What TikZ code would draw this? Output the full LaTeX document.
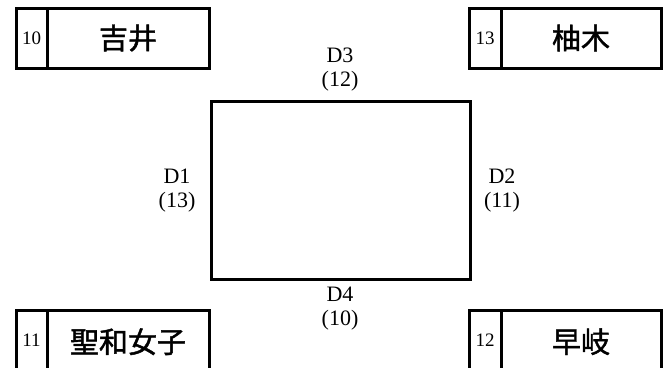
\documentclass[tikz,border=0pt]{standalone}
\usepackage{fontspec}
\setmainfont{Liberation Serif}
\newfontfamily\cjk{Noto Sans CJK JP}[FakeBold=1.5]
\begin{document}
\begin{tikzpicture}[x=1pt,y=-1pt,
  cell/.style={draw, line width=3pt, inner sep=0pt, outer sep=0pt, anchor=north west},
  num/.style={cell, minimum width=31pt, font=\fontsize{19}{19}\selectfont},
  team/.style={cell, font=\cjk\fontsize{29}{29}\selectfont},
  lbl/.style={align=center, inner sep=0pt, font=\fontsize{22}{24}\selectfont}]
\path[use as bounding box] (0,0) rectangle (664,367);
\clip (0,0) rectangle (664,367);
% top-left
\node[num, minimum height=60pt] (n10) at (16,8) {10};
\node[team, minimum width=162pt, minimum height=60pt] (yoshii) at (n10.north east) {吉井};
% top-right
\node[num, minimum width=32pt, minimum height=60pt] (n13) at (469,8) {13};
\node[team, minimum width=160pt, minimum height=60pt] (yuki) at (n13.north east) {柚木};
% bottom-left
\node[num, minimum height=70pt] (n11) at (16,310) {\raisebox{9pt}{11}};
\node[team, minimum width=162pt, minimum height=70pt] (seiwa) at (n11.north east) {\raisebox{9pt}{聖和女子}};
% bottom-right
\node[num, minimum width=32pt, minimum height=70pt] (n12) at (469,310) {\raisebox{9pt}{12}};
\node[team, minimum width=160pt, minimum height=70pt] (soki) at (n12.north east) {\raisebox{9pt}{早岐}};
% field
\node[draw, line width=3pt, minimum width=259pt, minimum height=178pt, inner sep=0pt, anchor=north west] (field) at (210,100) {};
\node[lbl] (d3) at (340,70) {D3\\(12)};
\node[lbl] (d1) at (177,191) {D1\\(13)};
\node[lbl] (d2) at (502,191) {D2\\(11)};
\node[lbl] (d4) at (340,309) {D4\\(10)};
\end{tikzpicture}
\end{document}
